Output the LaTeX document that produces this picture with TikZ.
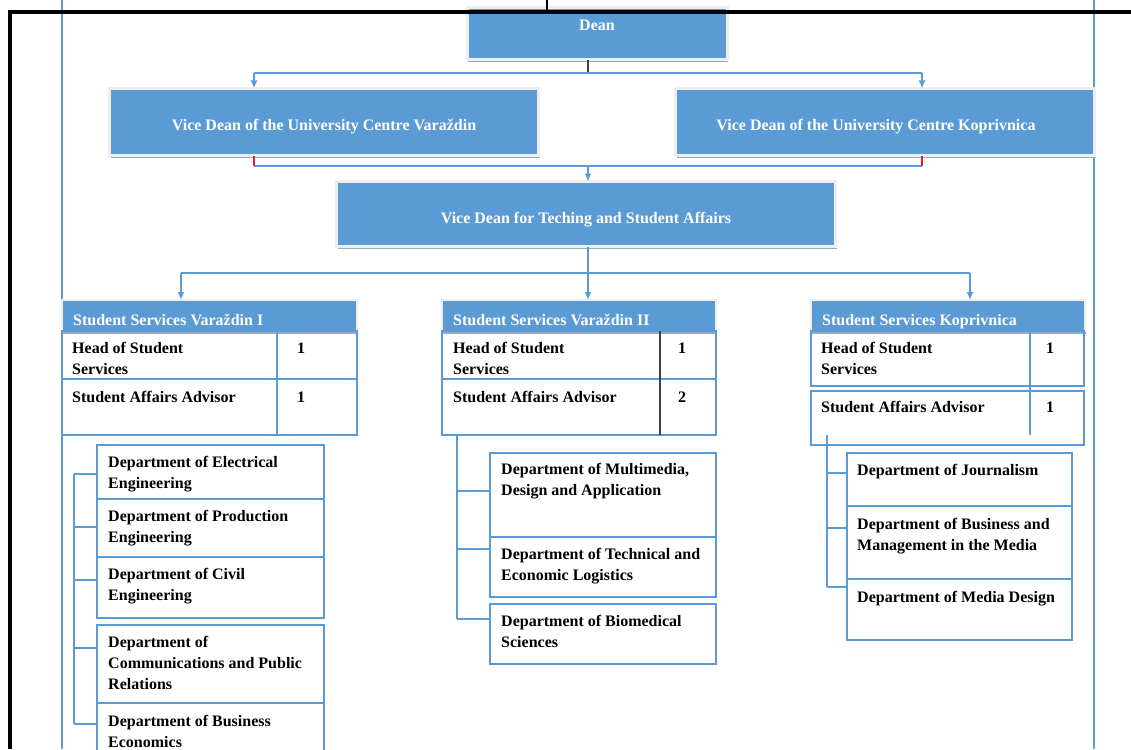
\documentclass[tikz,border=0pt]{standalone}
\usepackage{fontspec}
\setmainfont{Liberation Serif}
\usetikzlibrary{positioning,arrows.meta,calc,shadows}
\definecolor{offblue}{RGB}{91,155,213}
\definecolor{edgegray}{RGB}{238,238,238}
\definecolor{shadowgray}{RGB}{150,170,192}
\definecolor{redline}{RGB}{228,30,30}
\definecolor{darkline}{RGB}{64,64,64}
\begin{document}
\begin{tikzpicture}[x=1pt,y=1pt,yscale=-1,xscale=1,
  conn/.style={draw=offblue,line width=2pt},
  arr/.style={conn,-{Latex[length=8pt,width=7pt]}},
  bluebox/.style={fill=offblue,draw=edgegray,line width=3pt,outer sep=0pt,
    drop shadow={shadow xshift=1pt,shadow yshift=-2.5pt,fill=shadowgray,opacity=1},
    text=white,font=\bfseries\fontsize{16}{21}\selectfont},
  bluebar/.style={bluebox,line width=2pt,anchor=north west},
  cell/.style={draw=offblue,line width=2pt,outer sep=0pt,inner sep=0pt,anchor=north west},
  txt/.style={font=\bfseries\fontsize{16}{21}\selectfont,align=left,inner sep=0pt,anchor=north west},
  hdr/.style={txt,text=white}]
\clip (0,0) rectangle (1131,749);

%Straight Lines (long side lines)
\draw[conn] (62,0) -- (62,749);
\draw[conn] (1094,0) -- (1094,749);

%Shape: Rectangle (Dean)
\node[bluebox,minimum width=260,minimum height=52] (dean) at (597,34) {};
\node[txt,anchor=center,text=white] (deant) at (597,25) {Dean};

%Shape: Rectangle (vice deans)
\node[bluebox,minimum width=429,minimum height=67,text height=21pt] (vdv) at (324,122) {Vice Dean of the University Centre Varaždin};
\node[bluebox,minimum width=419,minimum height=67,text height=21pt] (vdk) at (885,122) {Vice Dean of the University Centre Koprivnica\hspace*{18pt}};
\node[bluebox,minimum width=499,minimum height=65,text height=23pt] (vdt) at (586,214) {Vice Dean for Teching and Student Affairs};

%Connectors: Dean to vice deans
\coordinate (j1) at (588,73);
\coordinate (a1) at (254,73);
\coordinate (a2) at (922,73);
\draw[darkline,line width=1.5pt] (j1 |- dean.south) -- (j1);
\draw[conn] (a1) -- (a2);
\draw[arr] (a1) -- (a1 |- vdv.north);
\draw[arr] (a2) -- (a2 |- vdk.north);

%Connectors: vice deans to teaching
\coordinate (r1) at (254,166);
\coordinate (r2) at (922,166);
\coordinate (j2) at (588,166);
\draw[conn] (r1) -- (r2);
\draw[redline,line width=1.5pt] (r1 |- vdv.south) -- (r1);
\draw[redline,line width=1.5pt] (r2 |- vdk.south) -- (r2);
\draw[arr] (j2) -- (j2 |- vdt.north);

%Shape: Header bars (student services)
\node[bluebar,minimum width=295,minimum height=31] (s1) at (62,300) {};
\node[bluebar,minimum width=274,minimum height=31] (s2) at (442,300) {};
\node[bluebar,minimum width=274,minimum height=31] (s3) at (811,300) {};
\node[hdr] (s1t) at (73,314) {Student Services Varaždin I};
\node[hdr] (s2t) at (453,314) {Student Services Varaždin II};
\node[hdr] (s3t) at (822,314) {Student Services Koprivnica};

%Connectors: teaching to student services
\coordinate (j3) at (588,273);
\coordinate (b1) at (181,273);
\coordinate (b3) at (970,273);
\draw[conn] (j3 |- vdt.south) -- (j3);
\draw[conn] (b1) -- (b3);
\draw[arr] (b1) -- (b1 |- s1.north);
\draw[arr] (j3) -- (j3 |- s2.north);
\draw[arr] (b3) -- (b3 |- s3.north);

%Shape: Tables
\node[cell,minimum width=295,minimum height=48] (s1a) at (62,331) {};
\node[cell,minimum width=295,minimum height=56] (s1b) at (62,379) {};
\draw[conn] (277,331) -- (277,435);
\node[cell,minimum width=274,minimum height=48] (s2a) at (442,331) {};
\node[cell,minimum width=274,minimum height=56] (s2b) at (442,379) {};
\draw[darkline,line width=1.5pt] (660,331) -- (660,435);
\node[cell,minimum width=273,minimum height=55] (s3a) at (811,331) {};
\node[cell,minimum width=273,minimum height=54] (s3b) at (811,391) {};
\draw[conn] (1030,331) -- (1030,435);

% Text Node
\node[txt] (s1at) at (72,342.5) {Head of Student\\Services};
\node[txt] (s1an) at (297,342.5) {1};
\node[txt] (s1bt) at (72,391.5) {Student Affairs Advisor};
\node[txt] (s1bn) at (297,391.5) {1};
\node[txt] (s2at) at (453,342.5) {Head of Student\\Services};
\node[txt] (s2an) at (678,342.5) {1};
\node[txt] (s2bt) at (453,391.5) {Student Affairs Advisor};
\node[txt] (s2bn) at (678,391.5) {2};
\node[txt] (s3at) at (821,342.5) {Head of Student\\Services};
\node[txt] (s3an) at (1046,342.5) {1};
\node[txt] (s3bt) at (821,401.5) {Student Affairs Advisor};
\node[txt] (s3bn) at (1046,401.5) {1};

%Shape: Departments Varaždin I
\node[cell,minimum width=227,minimum height=54] (e1) at (97,445) {};
\node[cell,minimum width=227,minimum height=58] (e2) at (97,499) {};
\node[cell,minimum width=227,minimum height=61] (e3) at (97,557) {};
\node[cell,minimum width=227,minimum height=78] (e4) at (97,625) {};
\node[cell,minimum width=227,minimum height=70] (e5) at (97,703) {};
\node[txt] (e1t) at (108,456.5) {Department of Electrical\\Engineering};
\node[txt] (e2t) at (108,510.5) {Department of Production\\Engineering};
\node[txt] (e3t) at (108,568.5) {Department of Civil\\Engineering};
\node[txt] (e4t) at (108,636.5) {Department of\\Communications and Public\\Relations};
\node[txt] (e5t) at (108,715) {Department of Business\\Economics};
\draw[conn] (74,474) -- (74,724);
\foreach \d/\y in {e1/474,e2/527,e3/580,e4/648,e5/724}{
  \coordinate (tap) at (74,\y);
  \draw[conn] (tap) -- (tap -| \d.west);
}

%Shape: Departments Varaždin II
\node[cell,minimum width=226,minimum height=84] (m1) at (490,453) {};
\node[cell,minimum width=226,minimum height=60] (m2) at (490,537) {};
\node[cell,minimum width=226,minimum height=60] (m3) at (490,604) {};
\node[txt] (m1t) at (501,463.5) {Department of Multimedia,\\Design and Application};
\node[txt] (m2t) at (501,548.5) {Department of Technical and\\Economic Logistics};
\node[txt] (m3t) at (501,615.5) {Department of Biomedical\\Sciences};
\coordinate (c2a) at (457,435);
\draw[conn] (c2a) -- (457,619);
\foreach \d/\y in {m1/491,m2/549,m3/619}{
  \coordinate (tap) at (457,\y);
  \draw[conn] (tap) -- (tap -| \d.west);
}

%Shape: Departments Koprivnica
\node[cell,minimum width=225,minimum height=53] (k1) at (847,453) {};
\node[cell,minimum width=225,minimum height=73] (k2) at (847,506) {};
\node[cell,minimum width=225,minimum height=61] (k3) at (847,579) {};
\node[txt] (k1t) at (857,464.5) {Department of Journalism};
\node[txt] (k2t) at (857,518.5) {Department of Business and\\Management in the Media};
\node[txt] (k3t) at (857,591.5) {Department of Media Design};
\draw[conn] (827,435) -- (827,587);
\foreach \d/\y in {k1/473,k2/528,k3/587}{
  \coordinate (tap) at (827,\y);
  \draw[conn] (tap) -- (tap -| \d.west);
}

%Straight Lines (page frame)
\draw[line width=2pt] (547,0) -- (547,12);
\draw[line width=4pt] (8,12) -- (1131,12);
\draw[line width=4pt] (10,10) -- (10,749);
\end{tikzpicture}
\end{document}
